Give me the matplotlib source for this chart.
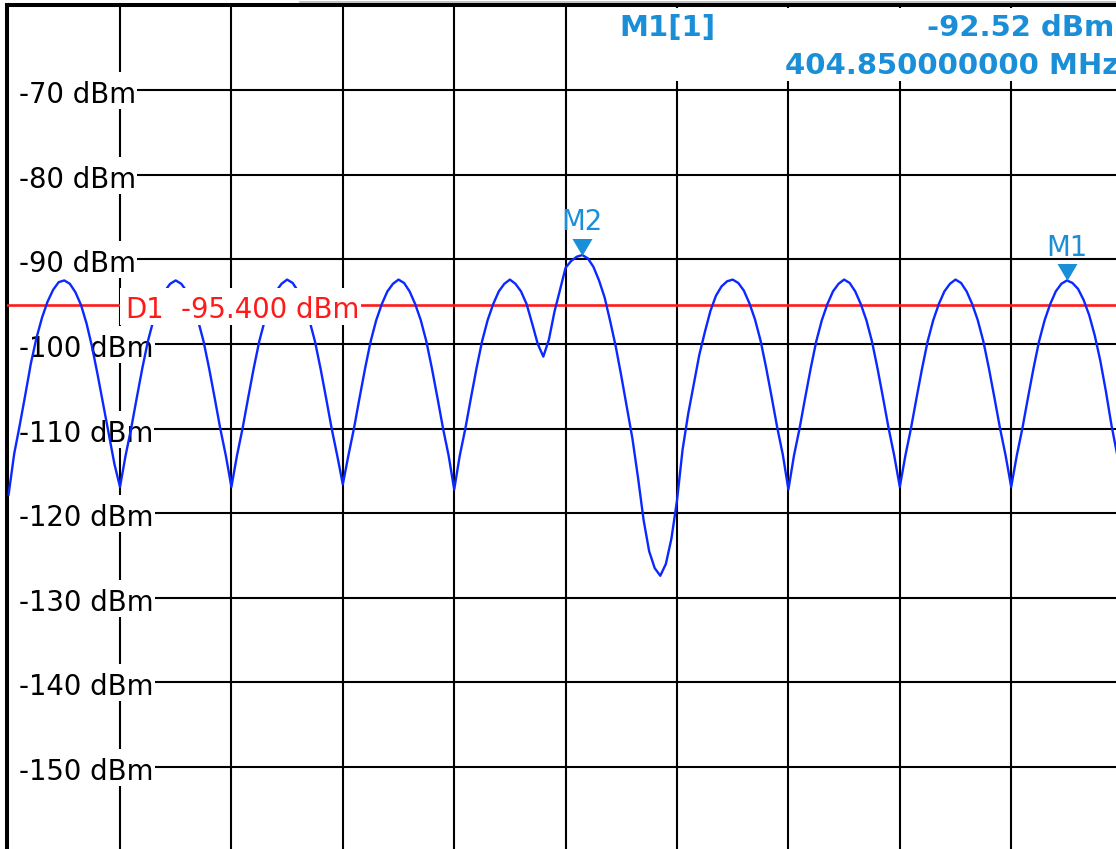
import numpy as np
import matplotlib
matplotlib.use("Agg")
import matplotlib.pyplot as plt
from matplotlib.patches import Rectangle
from matplotlib.lines import Line2D
from matplotlib.transforms import offset_copy

plt.rcParams.update({"font.family": "DejaVu Sans", "font.size": 19.8})

# --- данные трассы (dBm), шаг развёртки 0.05 МГц от левого края
F0, STEP = 395.35, 0.05
level = [
    -117.8, -113.0, -109.6, -106.0, -102.3, -99.3, -96.9, -95.0, -93.6, -92.7,
    -92.5, -92.9, -93.9, -95.4, -97.6, -100.4, -103.7, -107.2, -110.7, -114.2,
    -116.9, -113.2, -110.0, -106.4, -102.9, -99.7, -97.2, -95.3, -93.8, -92.9,
    -92.5, -92.9, -93.8, -95.3, -97.2, -99.7, -102.9, -106.4, -110.0, -113.2,
    -116.9, -113.2, -110.0, -106.4, -102.9, -99.7, -97.2, -95.3, -93.8, -92.9,
    -92.4, -92.8, -93.8, -95.3, -97.2, -99.7, -102.9, -106.4, -110.0, -113.2,
    -116.6, -113.2, -110.0, -106.4, -102.9, -99.7, -97.2, -95.3, -93.8, -92.9,
    -92.4, -92.8, -93.8, -95.3, -97.2, -99.7, -102.9, -106.4, -110.0, -113.2,
    -117.2, -113.2, -110.0, -106.4, -102.9, -99.7, -97.2, -95.3, -93.8, -92.9,
    -92.4, -92.9, -93.8, -95.3, -97.6, -100.0, -101.5, -99.5, -96.2, -93.6,
    -91.0, -90.2, -89.7, -89.5, -89.9, -90.9, -92.5, -94.5, -97.3, -100.3,
    -103.8, -107.5, -111.2, -115.8, -120.8, -124.5, -126.5, -127.4, -126.0, -123.0,
    -118.5, -112.5, -108.3, -104.8, -101.3, -98.6, -96.1, -94.3, -93.2, -92.6,
    -92.4, -92.8, -93.7, -95.2, -97.1, -99.6, -102.8, -106.3, -109.9, -113.1,
    -117.2, -113.2, -110.0, -106.4, -102.9, -99.7, -97.2, -95.3, -93.8, -92.9,
    -92.4, -92.8, -93.8, -95.3, -97.2, -99.7, -102.9, -106.4, -110.0, -113.2,
    -116.9, -113.2, -110.0, -106.4, -102.9, -99.7, -97.2, -95.3, -93.8, -92.9,
    -92.4, -92.8, -93.8, -95.3, -97.2, -99.7, -102.9, -106.4, -110.0, -113.2,
    -116.9, -113.2, -110.0, -106.4, -102.9, -99.7, -97.2, -95.3, -93.8, -92.9,
    -92.5, -92.8, -93.5, -94.8, -96.6, -99.0, -102.0, -105.6, -109.6, -113.0,
]
freq = F0 + STEP * np.arange(len(level))

y_ticks = [-70, -80, -90, -100, -110, -120, -130, -140, -150]
d1_level = -95.4
mk_names = ["M1", "M2"]
mk_freq = [404.85, 400.50]
mk_level = [-92.52, -89.5]
hdr = ["M1[1]", "-92.52 dBm", "404.850000000 MHz"]

W, H = 1116, 849
X0, PX_DIV = 8.6, 111.4      # пиксель 0-го деления, пикселей на деление (1 МГц)
Y0, PX_DB = 5.4, 8.4625      # пиксель уровня -60 dBm, пикселей на dB
MK = "#1a8fd8"

def ypx(v):
    return Y0 + (-60 - v) * PX_DB

def fx(x):
    return x / W

def fy(y):
    return 1 - y / H

fig = plt.figure(figsize=(W / 100, H / 100), dpi=100)
ax = fig.add_axes([7 / W, 0, (W - 7) / W, (H - Y0) / H])
for s in ["bottom", "right"]:
    ax.spines[s].set_visible(False)
for s in ["left", "top"]:
    ax.spines[s].set_linewidth(2.9)
ax.set_xticks(F0 + np.arange(1, 10))
ax.set_yticks(y_ticks)
ax.tick_params(length=0, labelbottom=False, labelleft=False)
ax.set_axisbelow(True)
ax.grid(color="black", lw=1.5)

ax.axhline(d1_level, color="#ff1a1a", lw=1.9, zorder=3)
ax.plot(freq, level, color="#0a28ff", lw=1.7, zorder=4)

# подписи оси Y на белой подложке
labels = []
for v in y_ticks:
    t = ax.text(fx(19), fy(ypx(v) + 13), f"{v} dBm", transform=fig.transFigure,
                ha="left", va="baseline", zorder=2.2)
    labels.append((v, t))

# линия дисплея D1
ax.add_patch(Rectangle((fx(120), fy(ypx(d1_level) + 20)), (361 - 120) / W, 37 / H,
                       transform=fig.transFigure, fc="white", ec="none", zorder=5))
ax.text(fx(125), fy(ypx(d1_level) + 13), "D1", transform=fig.transFigure,
        color="#ff1a1a", va="baseline", zorder=5.1)
ax.text(fx(181), fy(ypx(d1_level) + 13), f"{d1_level:.3f} dBm", transform=fig.transFigure,
        color="#ff1a1a", va="baseline", zorder=5.1)

# таблица маркера
ax.add_patch(Rectangle((fx(567.5), fy(81)), (W - 567.5) / W, 73.5 / H,
                       transform=fig.transFigure, fc="white", ec="none", zorder=5))
for txt, x, y in zip(hdr, [619, 927, 785], [36, 36, 74]):
    ax.text(fx(x), fy(y), txt, transform=fig.transFigure, color=MK,
            fontsize=21, fontweight="bold", va="baseline", zorder=5.1)

tri = [(-1, 0.85), (1, 0.85), (0, -0.85)]
for name, f, v in zip(mk_names, mk_freq, mk_level):
    ax.plot(f, v, marker=tri, ms=14.4, mew=0, color=MK, ls="none", zorder=6,
            transform=offset_copy(ax.transData, fig=fig, y=6.1, units="points"))
    ax.text(f, v, name, color=MK, ha="center", va="baseline", zorder=6,
            transform=offset_copy(ax.transData, fig=fig, y=18, units="points"))

ax.set_xlim(F0 + (7 - X0) / PX_DIV, F0 + (W - X0) / PX_DIV)
ax.set_ylim(-60 - (H - Y0) / PX_DB, -60)

fig.canvas.draw()
r = fig.canvas.get_renderer()
for v, t in labels:
    bb = t.get_window_extent(r)
    ax.add_patch(Rectangle((fx(9), fy(ypx(v) + 19)), (bb.x1 + 1 - 9) / W, 37 / H,
                           transform=fig.transFigure, fc="white", ec="none", zorder=2))

fig.add_artist(Line2D([fx(300), 1], [fy(1.5), fy(1.5)], color="#b8b8b8", lw=1.2))
ax.set_xlim(F0 + (7 - X0) / PX_DIV, F0 + (W - X0) / PX_DIV)
ax.set_ylim(-60 - (H - Y0) / PX_DB, -60)

fig.savefig("out.png", dpi=100)
plt.close(fig)
